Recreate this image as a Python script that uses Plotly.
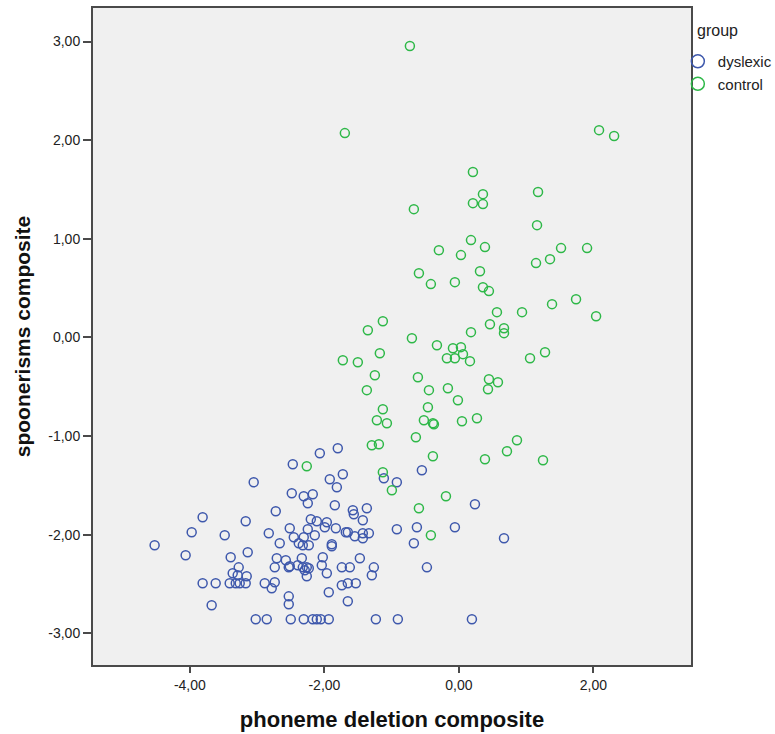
import plotly.graph_objects as go

# ---- data ----
dyslexic_x = [-2.068, -1.801, -2.470, -1.726, -1.920, -1.815, -1.116, -0.923, -3.051, -2.485,
              -2.307, -2.173, -2.247, -1.845, -1.577, -1.563, -1.369, -1.429, -2.723, -3.810,
              -3.170, -2.202, -2.113, -1.964, -1.994, -2.515, -2.247, -1.830, -1.682, -1.652,
              -1.548, -1.429, -1.429, -1.339, -0.923, -3.973, -3.482, -2.827, -2.455, -2.307,
              -2.143, -2.381, -2.321, -2.232, -1.890, -1.890, -2.664, -4.524, -4.063, -3.393,
              -3.140, -2.708, -2.574, -2.336, -2.024, -1.473, -2.738, -2.530, -2.515, -2.396,
              -2.321, -2.262, -2.232, -2.292, -2.262, -2.039, -1.964, -1.741, -1.622, -1.265,
              -1.295, -3.274, -3.363, -3.289, -3.155, -3.810, -3.616, -3.408, -3.318, -3.259,
              -3.170, -2.887, -2.783, -2.738, -1.741, -1.652, -1.533, -1.935, -2.530, -2.530,
              -1.652, -3.676, -3.021, -2.857, -2.500, -2.307, -2.173, -2.113, -2.054, -1.935,
              -1.235, -0.908, -0.551, 0.238, -0.625, -0.670, -0.060, 0.670, -0.476, 0.193]
dyslexic_y = [-1.173, -1.123, -1.285, -1.386, -1.437, -1.518, -1.427, -1.468, -1.468, -1.579,
              -1.610, -1.589, -1.681, -1.701, -1.752, -1.792, -1.731, -1.853, -1.762, -1.823,
              -1.863, -1.843, -1.863, -1.873, -1.924, -1.934, -1.944, -1.934, -1.975, -1.975,
              -2.015, -2.035, -1.985, -1.985, -1.944, -1.975, -2.005, -1.985, -2.025, -2.025,
              -2.005, -2.086, -2.106, -2.106, -2.096, -2.117, -2.086, -2.106, -2.208, -2.228,
              -2.177, -2.238, -2.259, -2.238, -2.228, -2.238, -2.330, -2.330, -2.319, -2.309,
              -2.330, -2.330, -2.340, -2.360, -2.421, -2.309, -2.390, -2.330, -2.330, -2.330,
              -2.411, -2.330, -2.390, -2.411, -2.421, -2.492, -2.492, -2.492, -2.492, -2.492,
              -2.492, -2.492, -2.543, -2.482, -2.512, -2.492, -2.492, -2.583, -2.624, -2.705,
              -2.674, -2.715, -2.857, -2.857, -2.857, -2.857, -2.857, -2.857, -2.857, -2.857,
              -2.857, -2.857, -1.346, -1.691, -1.924, -2.086, -1.924, -2.035, -2.330, -2.857]

control_x = [-0.729, -1.696, 2.083, 2.307, 0.208, 1.176, 0.357, 0.208, 0.357, -0.670,
             1.161, 0.179, -0.298, 0.387, 0.030, 1.518, 1.905, 1.146, 1.354, -0.595,
             -0.417, -0.060, 0.313, 0.357, 0.446, 0.565, 0.938, 1.384, 1.741, 2.039,
             0.179, 0.461, 0.670, 0.670, -1.131, -1.354, -0.699, -0.327, -0.089, 0.030,
             -0.179, -0.060, 0.060, 0.164, 1.057, 1.280, -1.726, -1.503, -1.176, -1.250,
             -0.610, -1.369, -0.446, -0.164, -0.015, 0.446, 0.580, 0.432, -1.131, -0.461,
             -1.220, -1.071, -0.521, -0.387, -0.372, 0.045, 0.268, -0.640, -1.295, -1.190,
             -0.387, 0.387, 0.714, 0.863, 1.250, -0.193, -0.595, -0.417, -0.997, -2.262,
             -1.131]
control_y = [2.954, 2.072, 2.102, 2.042, 1.677, 1.474, 1.453, 1.362, 1.352, 1.301,
             1.139, 0.987, 0.885, 0.916, 0.835, 0.906, 0.906, 0.754, 0.794, 0.652,
             0.541, 0.561, 0.672, 0.510, 0.470, 0.257, 0.257, 0.338, 0.388, 0.216,
             0.054, 0.135, 0.094, 0.044, 0.165, 0.074, -0.007, -0.078, -0.109, -0.098,
             -0.210, -0.210, -0.169, -0.240, -0.210, -0.149, -0.230, -0.251, -0.159, -0.382,
             -0.403, -0.534, -0.534, -0.514, -0.636, -0.423, -0.453, -0.524, -0.727, -0.707,
             -0.839, -0.869, -0.839, -0.869, -0.879, -0.849, -0.818, -1.011, -1.092, -1.082,
             -1.204, -1.234, -1.153, -1.042, -1.244, -1.610, -1.731, -2.005, -1.549, -1.305,
             -1.366]

x_tick_vals = [-4, -2, 0, 2]
x_tick_text = ["-4,00", "-2,00", "0,00", "2,00"]
y_tick_vals = [3, 2, 1, 0, -1, -2, -3]
y_tick_text = ["3,00", "2,00", "1,00", "0,00", "-1,00", "-2,00", "-3,00"]
legend_title = "group"

BLUE = "#3E58AC"
GREEN = "#2EB848"
FONT = "Liberation Sans, Arial, sans-serif"

fig = go.Figure()
for name, xs, ys, col in [("dyslexic", dyslexic_x, dyslexic_y, BLUE),
                          ("control", control_x, control_y, GREEN)]:
    fig.add_trace(go.Scatter(
        x=xs, y=ys, mode="markers", name=name, showlegend=False,
        marker=dict(symbol="circle-open", size=9, color=col, line=dict(width=1.5, color=col)),
    ))
    # legend entry (larger symbol as in the reference)
    fig.add_trace(go.Scatter(
        x=[None], y=[None], mode="markers", name=name, showlegend=True,
        marker=dict(symbol="circle-open", size=13, color=col, line=dict(width=1.5, color=col)),
    ))

axis_common = dict(
    showgrid=False, zeroline=False, showline=True, mirror=True,
    linecolor="#4a4a4a", linewidth=2, ticks="outside",
    tickcolor="#4a4a4a", tickwidth=2,
    tickfont=dict(family=FONT, size=14, color="#222"),
)

fig.update_layout(
    width=775, height=734,
    margin=dict(l=93, r=84, t=8, b=69, autoexpand=False),
    paper_bgcolor="white", plot_bgcolor="#F0F0F0",
    font=dict(family=FONT, color="#222"),
    xaxis=dict(range=[-5.44, 3.45], tickvals=x_tick_vals, ticktext=x_tick_text, ticklen=6,
               title=dict(text="phoneme deletion composite", standoff=20,
                          font=dict(family=FONT, size=22, color="#111", weight="bold")),
               **axis_common),
    yaxis=dict(range=[-3.32, 3.34], tickvals=y_tick_vals, ticktext=y_tick_text, ticklen=8,
               title=dict(text="spoonerisms composite", standoff=12,
                          font=dict(family=FONT, size=21, color="#111", weight="bold")),
               **axis_common),
    legend=dict(x=0.978, xanchor="left", y=0.9436, yanchor="top",
                font=dict(family=FONT, size=15, color="#222"),
                itemwidth=30, tracegroupgap=0, bgcolor="rgba(0,0,0,0)"),
    annotations=[dict(text=legend_title, xref="paper", yref="paper",
                      x=1.045, y=0.9665, xanchor="center", yanchor="middle",
                      showarrow=False, font=dict(family=FONT, size=16, color="#222"))],
)

fig.write_html("out.html")
